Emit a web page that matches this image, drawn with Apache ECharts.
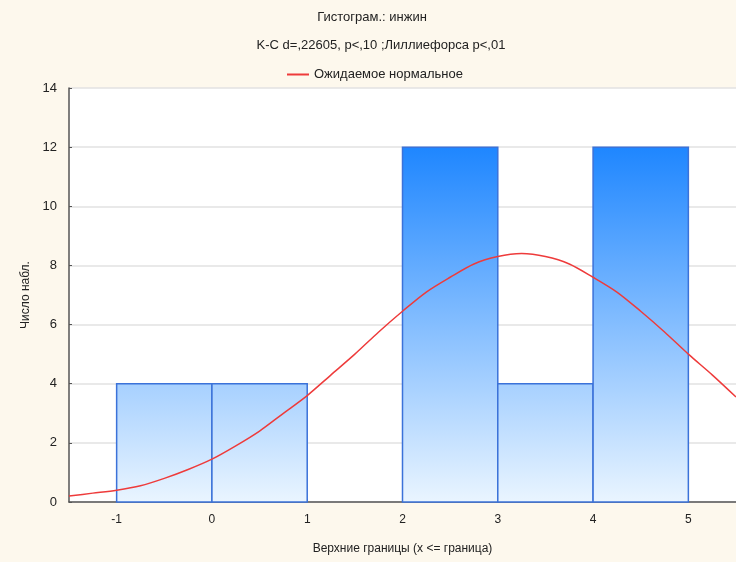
<!DOCTYPE html>
<html>
<head>
<meta charset="utf-8">
<script src="https://cdn.jsdelivr.net/npm/echarts@6/dist/echarts.min.js"></script>
<style>
  html, body { margin: 0; padding: 0; background: #fdf8ed; }
  #main { width: 736px; height: 562px; }
</style>
</head>
<body>
<div id="main"></div>
<script>
// bins: lower edge, upper edge, count
var binLow = [-1, 0, 1, 2, 3, 4];
var binHigh = [0, 1, 2, 3, 4, 5];
var counts = [4, 4, 0, 12, 4, 12];

// expected normal curve
var curveX = [-1.5, -1.25, -1, -0.75, -0.5, -0.25, 0, 0.25, 0.5, 0.75, 1, 1.25, 1.5, 1.75,
  2, 2.25, 2.5, 2.75, 3, 3.25, 3.5, 3.75, 4, 4.25, 4.5, 4.75, 5, 5.25, 5.5];
var curveY = [0.2, 0.3, 0.4, 0.55, 0.8, 1.1, 1.45, 1.9, 2.4, 3.0, 3.6, 4.3, 5.0, 5.75,
  6.45, 7.1, 7.6, 8.05, 8.3, 8.4, 8.3, 8.05, 7.6, 7.1, 6.45, 5.75, 5.0, 4.3, 3.55];

var titleText = 'Гистограм.: инжин';
var subText = 'K-C d=,22605, p<,10 ;Лиллиефорса p<,01';
var legendName = 'Ожидаемое нормальное';

var myChart = echarts.init(document.getElementById('main'));

var barData = [];
for (var i = 0; i < counts.length; i++) {
  barData.push([binLow[i], binHigh[i], counts[i]]);
}
var curveData = [];
for (var j = 0; j < curveX.length; j++) {
  curveData.push([curveX[j], curveY[j]]);
}

function mix(a, b, t) {
  var r = Math.round(a[0] + (b[0] - a[0]) * t);
  var g = Math.round(a[1] + (b[1] - a[1]) * t);
  var bl = Math.round(a[2] + (b[2] - a[2]) * t);
  return 'rgb(' + r + ',' + g + ',' + bl + ')';
}
var lightC = [234, 245, 255];
var darkC = [30, 134, 255];

var font = '"Liberation Sans", Arial, sans-serif';

var option = {
  backgroundColor: '#fdf8ed',
  animation: false,
  textStyle: { fontFamily: font },
  graphic: [
    { type: 'text', x: 372, y: 11, style: { text: titleText, font: '13px ' + font, fill: '#222', textAlign: 'center' } },
    { type: 'text', x: 381, y: 39, style: { text: subText, font: '13px ' + font, fill: '#222', textAlign: 'center' } }
  ],
  legend: {
    top: 63,
    left: 282,
    itemWidth: 22,
    itemHeight: 2,
    itemGap: 6,
    textStyle: { fontSize: 13, color: '#222', fontFamily: font },
    data: [{ name: legendName, icon: 'rect' }]
  },
  grid: {
    left: 69, right: 0, top: 88, bottom: 60,
    show: true, backgroundColor: '#ffffff', borderWidth: 0
  },
  xAxis: {
    type: 'value',
    min: -1.5, max: 5.5,
    splitNumber: 7,
    name: 'Верхние границы (x <= граница)',
    nameLocation: 'middle',
    nameGap: 41,
    nameTextStyle: { fontSize: 12, color: '#222' },
    axisLine: { show: true, onZero: false, lineStyle: { color: '#555', width: 1.5 } },
    axisTick: { show: true, inside: true, length: 3, lineStyle: { color: '#555' } },
    axisLabel: {
      fontSize: 12, color: '#222', margin: 12,
      showMinLabel: false, showMaxLabel: false,
      formatter: function (v) { return Number.isInteger(v) ? String(v) : ''; }
    },
    splitLine: { show: false }
  },
  yAxis: {
    type: 'value',
    min: 0, max: 14, interval: 2,
    name: 'Число набл.',
    nameLocation: 'middle',
    nameGap: 35,
    nameTextStyle: { fontSize: 12, color: '#222' },
    axisLine: { show: true, onZero: false, lineStyle: { color: '#555', width: 1.5 } },
    axisTick: { show: true, inside: true, length: 3, lineStyle: { color: '#555' } },
    axisLabel: { fontSize: 13, color: '#222', margin: 12 },
    splitLine: { show: true, lineStyle: { color: '#e2e2e2', width: 1.5 } }
  },
  series: [
    {
      type: 'custom',
      name: 'bins',
      data: barData,
      encode: { x: [0, 1], y: 2 },
      renderItem: function (params, api) {
        var v = api.value(2);
        if (!v) return null;
        var p0 = api.coord([api.value(0), v]);
        var p1 = api.coord([api.value(1), 0]);
        return {
          type: 'rect',
          shape: { x: p0[0], y: p0[1], width: p1[0] - p0[0], height: p1[1] - p0[1] },
          style: {
            fill: new echarts.graphic.LinearGradient(0, 0, 0, 1, [
              { offset: 0, color: mix(lightC, darkC, v / 12) },
              { offset: 1, color: mix(lightC, darkC, 0) }
            ]),
            stroke: '#3b72d9',
            lineWidth: 1.5
          }
        };
      },
      z: 2
    },
    {
      type: 'line',
      name: legendName,
      data: curveData,
      smooth: 0.3,
      showSymbol: false,
      lineStyle: { color: '#ee3b3b', width: 1.5 },
      itemStyle: { color: '#ee3b3b' },
      z: 3
    }
  ]
};

myChart.setOption(option);
</script>
</body>
</html>
